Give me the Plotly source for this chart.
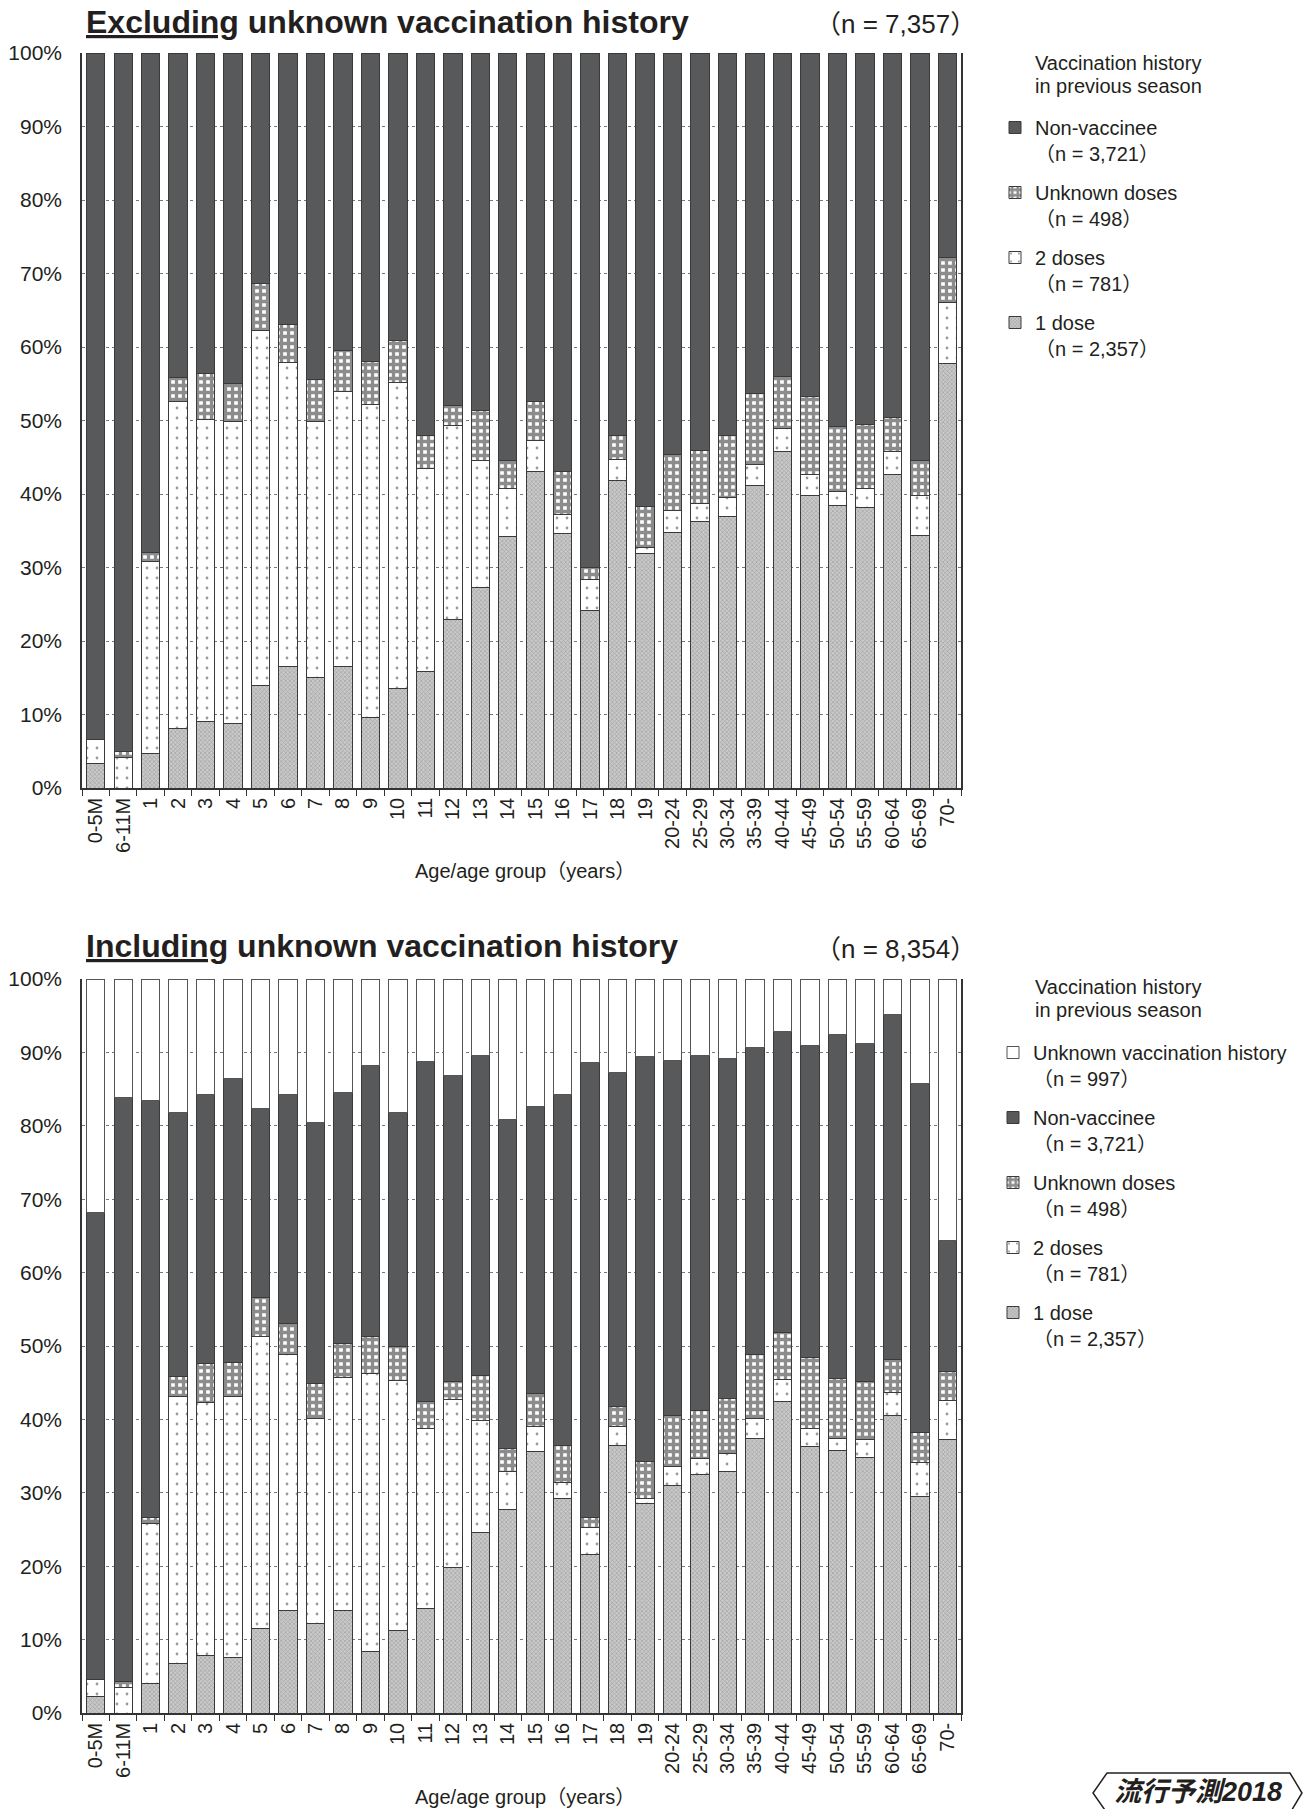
import plotly.graph_objects as go

categories = ["0-5M", "6-11M", "1", "2", "3", "4", "5", "6", "7", "8", "9", "10",
              "11", "12", "13", "14", "15", "16", "17", "18", "19",
              "20-24", "25-29", "30-34", "35-39", "40-44", "45-49", "50-54",
              "55-59", "60-64", "65-69", "70-"]

# ---- Excluding unknown vaccination history (percent of each age group) ----
excl_one_dose = [3.4, 0.0, 4.7, 8.1, 9.1, 8.8, 14.0, 16.5, 15.1, 16.5, 9.6, 13.6,
                 15.9, 22.9, 27.3, 34.2, 43.0, 34.6, 24.2, 41.8, 31.9,
                 34.8, 36.3, 36.9, 41.2, 45.8, 39.8, 38.4, 38.2, 42.7, 34.4, 57.7]
excl_two_doses = [3.2, 4.1, 26.1, 44.5, 41.1, 41.0, 48.3, 41.4, 34.7, 37.5, 42.6, 41.6,
                  27.6, 26.4, 17.2, 6.5, 4.3, 2.6, 4.2, 2.9, 0.8,
                  2.9, 2.4, 2.6, 2.8, 3.1, 2.8, 1.9, 2.5, 3.1, 5.4, 8.4]
excl_unknown_doses = [0.0, 0.8, 1.2, 3.2, 6.2, 5.3, 6.3, 5.1, 5.8, 5.5, 5.8, 5.7,
                      4.4, 2.7, 6.8, 3.9, 5.3, 5.9, 1.6, 3.2, 5.6,
                      7.7, 7.2, 8.5, 9.7, 7.1, 10.6, 8.9, 8.7, 4.6, 4.7, 6.1]
excl_non_vaccinee = [93.4, 95.1, 68.0, 44.2, 43.6, 44.9, 31.4, 37.0, 44.4, 40.5, 42.0, 39.1,
                     52.1, 48.0, 48.7, 55.4, 47.4, 56.9, 70.0, 52.1, 61.7,
                     54.6, 54.1, 52.0, 46.3, 44.0, 46.8, 50.8, 50.6, 49.6, 55.5, 27.8]

# ---- Including unknown vaccination history ----
incl_one_dose = [2.2, 0.0, 4.0, 6.7, 7.8, 7.6, 11.5, 13.9, 12.2, 14.0, 8.4, 11.2,
                 14.3, 19.8, 24.6, 27.7, 35.6, 29.2, 21.6, 36.5, 28.6,
                 31.0, 32.5, 32.9, 37.4, 42.5, 36.3, 35.7, 34.8, 40.5, 29.5, 37.2]
incl_two_doses = [2.3, 3.5, 21.8, 36.4, 34.5, 35.5, 39.8, 34.9, 27.9, 31.7, 37.9, 34.1,
                  24.4, 22.9, 15.3, 5.2, 3.4, 2.2, 3.7, 2.6, 0.6,
                  2.6, 2.2, 2.4, 2.7, 3.0, 2.5, 1.7, 2.5, 3.1, 4.6, 5.4]
incl_unknown_doses = [0.0, 0.8, 0.9, 2.7, 5.3, 4.6, 5.3, 4.3, 4.8, 4.7, 5.0, 4.7,
                      3.7, 2.4, 6.1, 3.2, 4.5, 5.0, 1.3, 2.7, 5.0,
                      6.9, 6.5, 7.6, 8.7, 6.4, 9.7, 8.2, 7.8, 4.5, 4.1, 3.9]
incl_non_vaccinee = [63.7, 79.6, 56.8, 36.0, 36.6, 38.7, 25.7, 31.1, 35.5, 34.2, 36.9, 31.8,
                     46.3, 41.7, 43.6, 44.8, 39.1, 47.9, 62.0, 45.5, 55.2,
                     48.4, 48.4, 46.3, 41.9, 41.0, 42.5, 46.9, 46.1, 47.0, 47.5, 17.9]
incl_unknown_history = [31.8, 16.1, 16.5, 18.2, 15.8, 13.6, 17.7, 15.8, 19.6, 15.4, 11.8, 18.2,
                        11.3, 13.2, 10.4, 19.1, 17.4, 15.7, 11.4, 12.7, 10.6,
                        11.1, 10.4, 10.8, 9.3, 7.1, 9.0, 7.5, 8.8, 4.9, 14.3, 35.6]

series_labels = {
    "unknown_history": "Unknown vaccination history<br>（n = 997）",
    "non": "Non-vaccinee<br>（n = 3,721）",
    "unk": "Unknown doses<br>（n = 498）",
    "two": "2 doses<br>（n = 781）",
    "one": "1 dose<br>（n = 2,357）",
}
legend_rank = {"unknown_history": 1, "non": 2, "unk": 3, "two": 4, "one": 5}
title_top = "<u>Excluding</u> unknown vaccination history"
title_bottom = "<u>Including</u> unknown vaccination history"
n_top = "（n = 7,357）"
n_bottom = "（n = 8,354）"
legend_title = ["Vaccination history", "in previous season"]
x_title = "Age/age group（years）"
watermark = "流行予測2018"

W, H = 1303, 1809
FONT = "Liberation Sans, Arial, Noto Sans CJK JP, sans-serif"
TXT = "#231f20"
OUT = "#3a3a3a"

styles = {
    "one": dict(color="#bfbfbf", line=dict(color=OUT, width=1),
                pattern=dict(shape="x", size=3, solidity=0.4, fgcolor="#7a7a7a",
                             bgcolor="#c9c9c9", fillmode="overlay")),
    "two": dict(color="white", line=dict(color=OUT, width=1),
                pattern=dict(shape=".", size=10, solidity=0.06, fgcolor="#333333",
                             bgcolor="white", fillmode="overlay")),
    "unk": dict(color="white", line=dict(color=OUT, width=1),
                pattern=dict(shape="+", size=7, solidity=0.72, fgcolor="#1a1a1a",
                             bgcolor="white", fillmode="overlay")),
    "non": dict(color="#58595b", line=dict(color=OUT, width=1)),
    "unknown_history": dict(color="white", line=dict(color="#555555", width=1)),
}


def px_x(x):
    return x / W


def px_y(y):
    return 1 - y / H


fig = go.Figure()

top_series = [("one", excl_one_dose), ("two", excl_two_doses),
              ("unk", excl_unknown_doses), ("non", excl_non_vaccinee)]
bottom_series = [("one", incl_one_dose), ("two", incl_two_doses),
                 ("unk", incl_unknown_doses), ("non", incl_non_vaccinee),
                 ("unknown_history", incl_unknown_history)]

for key, vals in top_series:
    fig.add_trace(go.Bar(x=categories, y=vals, name=series_labels[key],
                         marker=styles[key], xaxis="x", yaxis="y",
                         legend="legend", legendgroup="top_" + key,
                         legendrank=legend_rank[key]))
for key, vals in bottom_series:
    fig.add_trace(go.Bar(x=categories, y=vals, name=series_labels[key],
                         marker=styles[key], xaxis="x2", yaxis="y2",
                         legend="legend2", legendgroup="bot_" + key,
                         legendrank=legend_rank[key]))

xdom = [px_x(82), px_x(961)]
xaxis_common = dict(type="category", tickangle=-90, ticks="outside", tickson="boundaries",
                    ticklen=6, tickcolor="#333", tickwidth=1, showline=True,
                    linecolor="#333", linewidth=1.5, showgrid=False, automargin=False,
                    tickfont=dict(size=20, color=TXT, family=FONT), domain=xdom)
yaxis_common = dict(range=[0, 100], dtick=10, ticksuffix="%", showline=True, mirror=True,
                    linecolor="#333", linewidth=1.5, showgrid=True, gridcolor="#777",
                    griddash="dot", gridwidth=1, zeroline=False, ticks="",
                    ticklabelstandoff=14, automargin=False,
                    tickfont=dict(size=21, color=TXT, family=FONT))

legend_common = dict(xanchor="left", yanchor="top", traceorder="grouped",
                     tracegroupgap=10, valign="top", bgcolor="rgba(0,0,0,0)",
                     font=dict(size=20, color=TXT, family=FONT), itemwidth=30)

annotations = []


def add_text(text, x, y, size, xanchor="left", yanchor="middle", bold=False, **kw):
    annotations.append(dict(text=text, x=px_x(x), y=px_y(y), xref="paper", yref="paper",
                            xanchor=xanchor, yanchor=yanchor, showarrow=False,
                            font=dict(size=size, color=TXT, family=FONT,
                                      weight="bold" if bold else "normal", **kw)))


add_text(title_top, 84, 22, 32, bold=True)
add_text(n_top, 978, 24, 26, xanchor="right")
add_text(legend_title[0], 1033, 63, 20)
add_text(legend_title[1], 1033, 86, 20)
add_text(x_title, 525, 871, 20, xanchor="center")

add_text(title_bottom, 84, 946, 32, bold=True)
add_text(n_bottom, 978, 949, 26, xanchor="right")
add_text(legend_title[0], 1033, 987, 20)
add_text(legend_title[1], 1033, 1010, 20)
add_text(x_title, 525, 1797, 20, xanchor="center")

add_text(watermark, 1198, 1792, 27, xanchor="center", bold=True, style="italic")

frame_pts = [(1107, 1773), (1290, 1773), (1302, 1793), (1290, 1813),
             (1107, 1813), (1093, 1793)]
frame_path = "M " + " L ".join(f"{px_x(x):.5f},{px_y(y):.5f}" for x, y in frame_pts) + " Z"

fig.update_layout(
    width=W, height=H, margin=dict(l=0, r=0, t=0, b=0, autoexpand=False),
    paper_bgcolor="white", plot_bgcolor="white",
    barmode="stack", bargap=0.33,
    font=dict(family=FONT, color=TXT),
    xaxis=dict(xaxis_common, anchor="y"),
    yaxis=dict(yaxis_common, anchor="x", domain=[px_y(788), px_y(53)]),
    xaxis2=dict(xaxis_common, anchor="y2"),
    yaxis2=dict(yaxis_common, anchor="x2", domain=[px_y(1713), px_y(979)]),
    legend=dict(legend_common, x=px_x(995), y=px_y(108)),
    legend2=dict(legend_common, x=px_x(993), y=px_y(1033)),
    annotations=annotations,
    shapes=[dict(type="path", path=frame_path, xref="paper", yref="paper",
                 line=dict(color="#222", width=1.5), fillcolor="rgba(0,0,0,0)")],
    showlegend=True,
)

fig.write_html("out.html", config={"displayModeBar": False},
               post_script="document.body.style.margin='0';document.body.style.padding='0';")
